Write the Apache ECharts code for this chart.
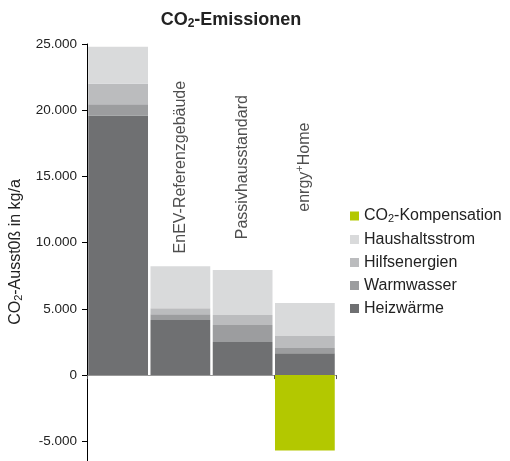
<!DOCTYPE html>
<html>
<head>
<meta charset="utf-8">
<script src="https://cdn.jsdelivr.net/npm/echarts@6/dist/echarts.min.js"></script>
<style>
  html, body { margin: 0; padding: 0; background: #fff; }
  #chart { width: 510px; height: 461px; }
</style>
</head>
<body>
<div id="chart"></div>
<script>
// Building variants on the category axis
const categories = ['Bestand', 'EnEV-Referenzgebäude', 'Passivhausstandard', 'enrgy+Home'];
// Rotated labels written above the bars (first building has none)
const categoryLabels = ['', 'EnEV-Referenzgebäude', 'Passivhausstandard', 'enrgy+Home'];

// CO2 output per year in kg, by consumer
const heizwaerme      = [19600, 4150, 2500, 1650];
const warmwasser      = [850,   450,  1280, 400];
const hilfsenergien   = [1550,  450,  750,  900];
const haushaltsstrom  = [2800,  3170, 3400, 2500];
const kompensation    = [0,     0,    0,    -5700];

// Y axis ticks
const yMin = -10000, yMax = 25000, yStep = 5000;

const FONT = '"Liberation Sans", Arial, Helvetica, sans-serif';

const fmt = v => {
  const s = Math.abs(v).toString().replace(/\B(?=(\d{3})+(?!\d))/g, '.');
  return (v < 0 ? '-' : '') + s;
};

const chart = echarts.init(document.getElementById('chart'), null, { renderer: 'canvas' });

const barSeries = (name, data, color) => ({
  name, type: 'bar', stack: 'co2', data,
  barCategoryGap: '4%',
  itemStyle: { color },
  emphasis: { disabled: true },
  silent: true
});

const labelRich = {
  n: { fontFamily: FONT, fontSize: 16, color: '#222' },
  sup: { fontFamily: FONT, fontSize: 11, color: '#222', verticalAlign: 'top', padding: [0, 0, 9, 0] }
};

chart.setOption({
  animation: false,
  title: {
    text: '{a|CO}{b|2}{a|-Emissionen}',
    left: 226, top: 5, textAlign: 'center',
    textStyle: {
      rich: {
        a: { fontFamily: FONT, fontSize: 18, fontWeight: 'bold', color: '#222' },
        b: { fontFamily: FONT, fontSize: 12, fontWeight: 'bold', color: '#222', padding: [8, 0, 0, 0] }
      }
    }
  },
  legend: {
    orient: 'vertical', left: 345, top: 203,
    icon: 'rect', itemWidth: 9, itemHeight: 9, itemGap: 7,
    data: ['CO2-Kompensation', 'Haushaltsstrom', 'Hilfsenergien', 'Warmwasser', 'Heizwärme'],
    formatter: n => n === 'CO2-Kompensation' ? '{t|CO}{s|2}{t|-Kompensation}' : '{t|' + n + '}',
    textStyle: {
      rich: {
        t: { fontFamily: FONT, fontSize: 16, color: '#222' },
        s: { fontFamily: FONT, fontSize: 11, color: '#222', padding: [6, 0, 0, 0] }
      }
    },
    selectedMode: false
  },
  grid: { left: 87, right: 174, top: 44, bottom: -46.5, outerBoundsMode: 'none', containLabel: false },
  xAxis: {
    type: 'category', data: categories,
    axisLine: { lineStyle: { color: '#999', width: 1 } },
    axisTick: { show: true, length: 4, lineStyle: { color: '#555' } },
    axisLabel: { show: false },
    splitLine: { show: false }
  },
  yAxis: {
    type: 'value', min: yMin, max: yMax, interval: yStep,
    axisLine: { show: true, lineStyle: { color: '#000', width: 1 } },
    axisTick: { show: true, length: 5, lineStyle: { color: '#000' } },
    axisLabel: { formatter: fmt, fontFamily: FONT, fontSize: 13.5, color: '#222', margin: 10 },
    splitLine: { show: false }
  },
  graphic: [{
    type: 'text', x: 16, y: 252, rotation: Math.PI / 2,
    style: {
      text: '{n|CO}{s|2}{n|-Ausst0ß in kg/a}',
      align: 'center', verticalAlign: 'middle',
      rich: {
        n: { fontFamily: FONT, fontSize: 16, fill: '#222' },
        s: { fontFamily: FONT, fontSize: 11, fill: '#222', padding: [6, 0, 0, 0] }
      }
    }
  }],
  series: [
    barSeries('Heizwärme', heizwaerme, '#6f7072'),
    barSeries('Warmwasser', warmwasser, '#9c9d9f'),
    barSeries('Hilfsenergien', hilfsenergien, '#bbbcbe'),
    barSeries('Haushaltsstrom', haushaltsstrom, '#d9dadb'),
    barSeries('CO2-Kompensation', kompensation, '#b3c800'),
    {
      type: 'scatter', symbolSize: 0, silent: true,
      data: categoryLabels.map((t, i) => [i, 15700]),
      label: {
        show: true, position: 'inside', rotate: 90,
        formatter: p => {
          const t = categoryLabels[p.dataIndex];
          if (!t) return '';
          if (t.indexOf('+') > 0) {
            const [a, b] = t.split('+');
            return '{n|' + a + '}{sup|+}{n|' + b + '}';
          }
          return '{n|' + t + '}';
        },
        rich: labelRich
      },
      z: 5
    }
  ]
});
</script>
</body>
</html>
